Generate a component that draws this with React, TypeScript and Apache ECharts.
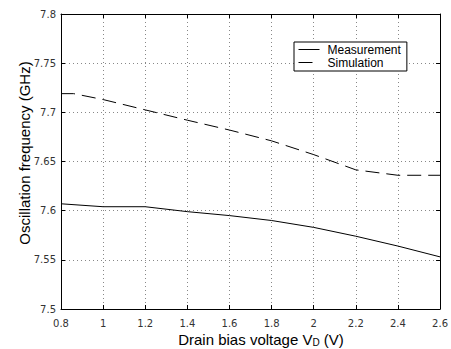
import React, { useEffect, useRef } from "react";
import * as echarts from "echarts";

const xTicks = [0.8, 1.0, 1.2, 1.4, 1.6, 1.8, 2.0, 2.2, 2.4, 2.6];
const measurementX = [0.8, 1.0, 1.2, 1.4, 1.6, 1.8, 2.0, 2.2, 2.4, 2.6];
const measurementY = [7.607, 7.604, 7.604, 7.599, 7.595, 7.59, 7.583, 7.574, 7.564, 7.553];
const simulationX = [0.8, 0.86, 1.0, 1.2, 1.4, 1.6, 1.8, 2.0, 2.2, 2.4, 2.6];
const simulationY = [7.719, 7.719, 7.713, 7.7025, 7.692, 7.682, 7.671, 7.657, 7.6415, 7.636, 7.636];
const seriesNames = ["Measurement", "Simulation"];
const yTitle = "Oscillation frequency (GHz)";

export default function App() {
  const ref = useRef<HTMLDivElement>(null);
  useEffect(() => {
    if (!ref.current) return;
    const chart = echarts.init(ref.current, null, { renderer: "svg" });
    const tickFont = { fontFamily: "DejaVu Sans", fontSize: 10, color: "#333" };
    const baseX = {
      type: "value",
      min: 0.8,
      max: 2.6,
      interval: 0.2,
      axisLine: { show: true, onZero: false, lineStyle: { color: "#000", width: 1 } },
      axisTick: { show: true, inside: true, length: 4, lineStyle: { color: "#000" } },
    };
    const baseY = {
      type: "value",
      min: 7.5,
      max: 7.8,
      interval: 0.05,
      axisLine: { show: true, onZero: false, lineStyle: { color: "#000", width: 1 } },
      axisTick: { show: true, inside: true, length: 4, lineStyle: { color: "#000" } },
    };
    chart.setOption({
      animation: false,
      backgroundColor: "#fff",
      grid: { left: 61, right: 9, top: 14, bottom: 40, containLabel: false },
      legend: {
        orient: "vertical",
        left: 294,
        top: 42,
        padding: [1, 6, 2, 4],
        itemGap: 0,
        itemWidth: 21,
        itemHeight: 13,
        borderColor: "#000",
        borderWidth: 1,
        borderRadius: 0,
        backgroundColor: "#fff",
        itemStyle: { color: "transparent", borderColor: "transparent", borderWidth: 0 },
        lineStyle: { width: 1 },
        textStyle: {
          fontFamily: "Liberation Sans",
          fontSize: 12,
          color: "#000",
          lineHeight: 13,
          padding: [0, 0, 0, 3],
        },
        data: seriesNames,
      },
      graphic: [
        {
          type: "text",
          x: 24,
          y: 153,
          rotation: Math.PI / 2,
          style: {
            text: yTitle,
            fontFamily: "Liberation Sans",
            fontSize: 15,
            fill: "#000",
            align: "center",
            verticalAlign: "middle",
          },
        },
        {
          type: "text",
          x: 261,
          y: 339,
          style: {
            text: "{t|Drain bias voltage V}{s|D}{t| (V)}",
            align: "center",
            verticalAlign: "middle",
            rich: {
              t: { fontFamily: "Liberation Sans", fontSize: 15, fill: "#000", lineHeight: 18 },
              s: { fontFamily: "Liberation Sans", fontSize: 10, fill: "#000", lineHeight: 18, padding: [7, 0, 0, 0] },
            },
          },
        },
      ],
      xAxis: [
        {
          ...baseX,
          position: "bottom",
          axisLabel: {
            ...tickFont,
            margin: 9,
            formatter: (v: number) => {
              const r = Math.round(v * 10) / 10;
              return xTicks.includes(r) ? String(r) : "";
            },
          },
          splitLine: { show: true, lineStyle: { color: "#888", type: [1, 3], width: 1 } },
        },
        {
          ...baseX,
          position: "top",
          axisLabel: { show: false },
          splitLine: { show: false },
        },
      ],
      yAxis: [
        {
          ...baseY,
          position: "left",
          axisLabel: {
            ...tickFont,
            margin: 5,
            formatter: (v: number) => String(Math.round(v * 100) / 100),
          },
          splitLine: { show: true, lineStyle: { color: "#888", type: [1, 3], width: 1 } },
        },
        {
          ...baseY,
          position: "right",
          axisLabel: { show: false },
          splitLine: { show: false },
        },
      ],
      series: [
        {
          name: seriesNames[0],
          type: "line",
          symbol: "none",
          data: measurementX.map((x, i) => [x, measurementY[i]]),
          lineStyle: { color: "#000", width: 1, type: "solid" },
          itemStyle: { color: "#000" },
        },
        {
          name: seriesNames[1],
          type: "line",
          symbol: "none",
          data: simulationX.map((x, i) => [x, simulationY[i]]),
          lineStyle: { color: "#000", width: 1, type: [14, 7] },
          itemStyle: { color: "#000" },
        },
      ],
    });
    return () => chart.dispose();
  }, []);
  return <div ref={ref} style={{ width: 451, height: 349, position: "absolute", left: 0, top: 0 }} />;
}
